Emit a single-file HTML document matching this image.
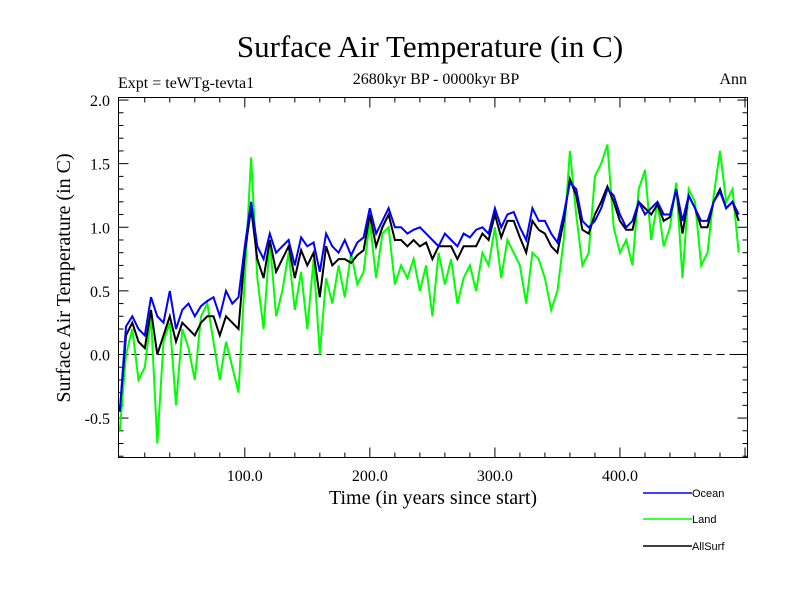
<!DOCTYPE html>
<html><head><meta charset="utf-8"><style>
body{margin:0;background:#fff}
svg{display:block}
text{font-family:"Liberation Serif",serif;fill:#000}
</style></head><body>
<svg id="chart" width="800" height="600" viewBox="0 0 800 600">
<text x="430" y="57" font-size="31" text-anchor="middle">Surface Air Temperature (in C)</text>
<text x="436" y="84" font-size="16" text-anchor="middle">2680kyr BP - 0000kyr BP</text>
<text x="118" y="88" font-size="16">Expt = teWTg-tevta1</text>
<text x="747" y="84" font-size="16" text-anchor="end">Ann</text>
<text x="433" y="504" font-size="20" text-anchor="middle">Time (in years since start)</text>
<text transform="translate(70,278) rotate(-90)" font-size="20" text-anchor="middle">Surface Air Temperature (in C)</text>
<g id="axes"></g>
<g id="series"></g>
<rect x="118.5" y="97.5" width="629" height="360" fill="none" stroke="#000" stroke-width="1"/>
<g font-family="Liberation Sans, sans-serif">
<line x1="643" y1="493" x2="692" y2="493" stroke="#0000ff" stroke-width="1.5"/>
<text x="692" y="497" font-size="11" style="font-family:'Liberation Sans',sans-serif">Ocean</text>
<line x1="643" y1="519" x2="692" y2="519" stroke="#00ff00" stroke-width="1.5"/>
<text x="692" y="523" font-size="11" style="font-family:'Liberation Sans',sans-serif">Land</text>
<line x1="643" y1="546" x2="692" y2="546" stroke="#000" stroke-width="1.5"/>
<text x="692" y="550" font-size="11" style="font-family:'Liberation Sans',sans-serif">AllSurf</text>
</g>
</svg>
<script>
const years=[];for(let i=0;i<100;i++)years.push(i*5);
const ocean=[-0.45,0.22,0.3,0.2,0.15,0.45,0.3,0.25,0.5,0.2,0.35,0.4,0.3,0.38,0.42,0.45,0.3,0.5,0.4,0.45,
0.85,1.2,0.85,0.75,0.95,0.8,0.85,0.9,0.7,0.92,0.85,0.88,0.65,0.95,0.85,0.8,0.9,0.78,0.88,0.92,
1.15,0.95,1.05,1.15,1.0,1.0,0.95,0.98,1.0,0.95,0.9,0.85,0.95,0.9,0.85,0.95,0.92,0.98,1.0,0.95,
1.15,1.0,1.1,1.12,1.0,0.9,1.15,1.05,1.05,0.95,0.88,1.1,1.35,1.3,1.05,1.0,1.05,1.15,1.3,1.25,
1.1,1.0,1.05,1.2,1.1,1.15,1.2,1.1,1.1,1.3,1.05,1.25,1.15,1.05,1.05,1.2,1.28,1.15,1.2,1.1];
const land=[-0.6,0.0,0.2,-0.2,-0.1,0.3,-0.7,0.1,0.25,-0.4,0.2,0.05,-0.2,0.3,0.4,0.1,-0.2,0.1,-0.1,-0.3,
0.6,1.55,0.6,0.2,0.9,0.3,0.5,0.8,0.35,0.65,0.2,0.75,0.0,0.6,0.4,0.7,0.45,0.8,0.55,0.65,
1.05,0.6,0.95,1.0,0.55,0.7,0.6,0.75,0.5,0.7,0.3,0.8,0.55,0.75,0.4,0.6,0.7,0.5,0.8,0.7,
1.0,0.6,0.9,0.8,0.7,0.4,0.8,0.75,0.6,0.35,0.5,0.9,1.6,1.1,0.7,0.8,1.4,1.5,1.65,1.0,
0.8,0.9,0.7,1.3,1.45,0.9,1.2,0.85,1.0,1.35,0.6,1.3,1.2,0.7,0.8,1.25,1.6,1.2,1.3,0.8];
const allsurf=[-0.45,0.15,0.25,0.1,0.05,0.35,0.0,0.15,0.3,0.1,0.25,0.2,0.15,0.25,0.3,0.3,0.15,0.3,0.25,0.2,
0.8,1.15,0.75,0.6,0.9,0.65,0.75,0.85,0.6,0.82,0.7,0.8,0.45,0.85,0.7,0.75,0.75,0.72,0.78,0.82,
1.1,0.85,1.0,1.1,0.9,0.9,0.85,0.9,0.85,0.88,0.75,0.85,0.85,0.85,0.75,0.85,0.85,0.85,0.95,0.9,
1.1,0.92,1.05,1.05,0.92,0.8,1.05,0.98,0.95,0.85,0.8,1.05,1.38,1.25,0.98,0.95,1.1,1.2,1.32,1.2,
1.05,0.98,0.98,1.2,1.15,1.1,1.18,1.05,1.08,1.3,0.95,1.25,1.15,1.0,1.0,1.2,1.3,1.15,1.2,1.05];
const xTicks=[100,200,300,400];
const xTickLabels=["100.0","200.0","300.0","400.0"];
const yTicks=[-0.5,0,0.5,1,1.5,2];
const yTickLabels=["-0.5","0.0","0.5","1.0","1.5","2.0"];

const X0=118.5,X1=747.5,Y0=457.5,Y1=97.5,xmin=-1,xmax=502,ymin=-0.81,ymax=2.02;
const sx=v=>X0+(v-xmin)/(xmax-xmin)*(X1-X0);
const sy=v=>Y0-(v-ymin)/(ymax-ymin)*(Y0-Y1);
const NS='http://www.w3.org/2000/svg';
const axes=document.getElementById('axes'),ser=document.getElementById('series');
function mk(t,a,p){const e=document.createElementNS(NS,t);for(const k in a)e.setAttribute(k,a[k]);p.appendChild(e);return e;}
// minor ticks
for(let v=20;v<=500;v+=20){const maj=v%100===0,L=maj?10:5,x=sx(v);
const t1=mk('line',{x1:x,y1:Y0,x2:x,y2:Y0-L,stroke:'#000'},axes);


const t2=mk('line',{x1:x,y1:Y1,x2:x,y2:Y1+L,stroke:'#000'},axes);

}
for(let k=-8;k<=20;k++){const v=k/10,maj=k%5===0,L=maj?10:5,y=sy(v);
const t1=mk('line',{x1:X0,y1:y,x2:X0+L,y2:y,stroke:'#000'},axes);


const t2=mk('line',{x1:X1,y1:y,x2:X1-L,y2:y,stroke:'#000'},axes);

}
xTicks.forEach((v,i)=>{const t=mk('text',{x:sx(v),y:481,'font-size':16,'text-anchor':'middle'},axes);t.textContent=xTickLabels[i];

});
yTicks.forEach((v,i)=>{const t=mk('text',{x:110,y:sy(v)+6,'font-size':16,'text-anchor':'end'},axes);t.textContent=yTickLabels[i];

});
const zl=mk('line',{x1:X0,y1:sy(0),x2:X1,y2:sy(0),stroke:'#000','stroke-dasharray':'8,5'},axes);


function draw(arr,col,name){const d=arr.map((v,i)=>(i?'L':'M')+sx(years[i]).toFixed(1)+','+sy(v).toFixed(1)).join('');
const p=mk('path',{d:d,fill:'none',stroke:col,'stroke-width':2},ser);

}
draw(land,'#00ff00','land-line');
draw(allsurf,'#000000','allsurf-line');
draw(ocean,'#0000ff','ocean-line');
</script>
</body></html>
